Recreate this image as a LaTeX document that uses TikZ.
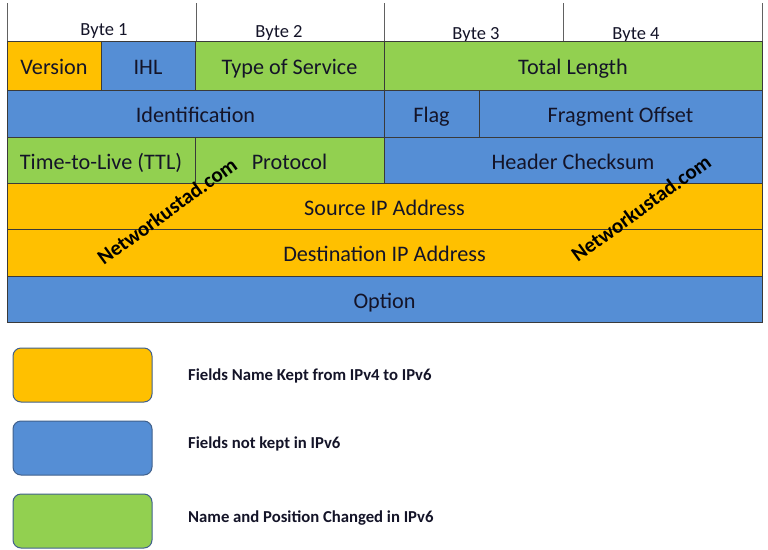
\documentclass[tikz,border=0pt]{standalone}
\usepackage{fontspec}
\setmainfont{Carlito}
\definecolor{orng}{HTML}{FFC000}
\definecolor{blu}{HTML}{558ED5}
\definecolor{grn}{HTML}{92D050}
\definecolor{txt}{HTML}{141428}
\definecolor{edge}{HTML}{3A3A3A}
\definecolor{ledge}{HTML}{41618C}
\tikzset{
  cell/.style={draw=edge, line width=1pt, inner sep=0pt, outer sep=0pt,
    text=txt, font=\fontsize{22.2}{24}\selectfont, text height=20pt, text depth=2pt},
  bytelbl/.style={text=txt, font=\fontsize{18.5}{20}\selectfont, inner sep=0pt},
  legbox/.style={draw=ledge, line width=1pt, rounded corners=8pt,
    minimum width=139pt, minimum height=54pt, inner sep=0pt},
  legtxt/.style={anchor=west, text=txt, font=\bfseries\fontsize{16.7}{18}\selectfont, inner sep=0pt},
  wm/.style={font=\bfseries\fontsize{21}{23}\selectfont, rotate=36, inner sep=0pt, text=black},
  sep/.style={draw=edge!80, line width=1pt}
}
\begin{document}
\begin{tikzpicture}[x=1pt,y=-1pt]
\useasboundingbox[fill=white] (0,0) rectangle (768,549);
% header separators
\coordinate (h0t) at (7,3);   \coordinate (h0b) at (7,41);
\coordinate (h1t) at (196,3); \coordinate (h1b) at (196,41);
\coordinate (h2t) at (384,3); \coordinate (h2b) at (384,41);
\coordinate (h3t) at (563,3); \coordinate (h3b) at (563,41);
\coordinate (h4t) at (762,3); \coordinate (h4b) at (762,41);
\foreach \i in {0,...,4} {\draw[sep] (h\i t) -- (h\i b);}
\node[bytelbl] (b1) at (104,31) {Byte 1};
\node[bytelbl] (b2) at (279,33) {Byte 2};
\node[bytelbl] (b3) at (476,35) {Byte 3};
\node[bytelbl] (b4) at (636,35) {Byte 4};
% row 1
\node[cell, fill=orng, minimum width=94pt, minimum height=49pt] (ver) at (54,65.5) {Version};
\node[cell, fill=blu, minimum width=94pt, minimum height=49pt] (ihl) at (148,65.5) {IHL};
\node[cell, fill=grn, minimum width=189pt, minimum height=49pt] (tos) at (289.5,65.5) {Type of Service};
\node[cell, fill=grn, minimum width=378pt, minimum height=49pt] (tl) at (573,65.5) {Total Length};
% row 2
\node[cell, fill=blu, minimum width=377pt, minimum height=47pt] (id) at (195.5,113.5) {Identification};
\node[cell, fill=blu, minimum width=95pt, minimum height=47pt] (flag) at (431.5,113.5) {Flag};
\node[cell, fill=blu, minimum width=283pt, minimum height=47pt] (fo) at (620.5,113.5) {Fragment Offset};
% row 3
\node[cell, fill=grn, minimum width=188pt, minimum height=46pt] (ttl) at (101,160) {Time-to-Live (TTL)};
\node[cell, fill=grn, minimum width=189pt, minimum height=46pt] (proto) at (289.5,160) {Protocol};
\node[cell, fill=blu, minimum width=378pt, minimum height=46pt] (hc) at (573,160) {Header Checksum};
% rows 4-6
\node[cell, fill=orng, minimum width=755pt, minimum height=46pt] (src) at (384.5,206) {Source IP Address};
\node[cell, fill=orng, minimum width=755pt, minimum height=47pt] (dst) at (384.5,252.5) {Destination IP Address};
\node[cell, fill=blu, minimum width=755pt, minimum height=46pt] (opt) at (384.5,299) {Option};
% watermarks
\node[wm] (wm1) at (167,211) {Networkustad.com};
\node[wm] (wm2) at (641,208) {Networkustad.com};
% legend
\node[legbox, fill=orng] (l1) at (82.5,375) {};
\node[legbox, fill=blu] (l2) at (82.5,448) {};
\node[legbox, fill=grn] (l3) at (82.5,521) {};
\node[legtxt] (t1) at (188,376) {Fields Name Kept from IPv4 to IPv6};
\node[legtxt] (t2) at (188,444) {Fields not kept in IPv6};
\node[legtxt] (t3) at (188,518) {Name and Position Changed in IPv6};
\end{tikzpicture}
\end{document}
